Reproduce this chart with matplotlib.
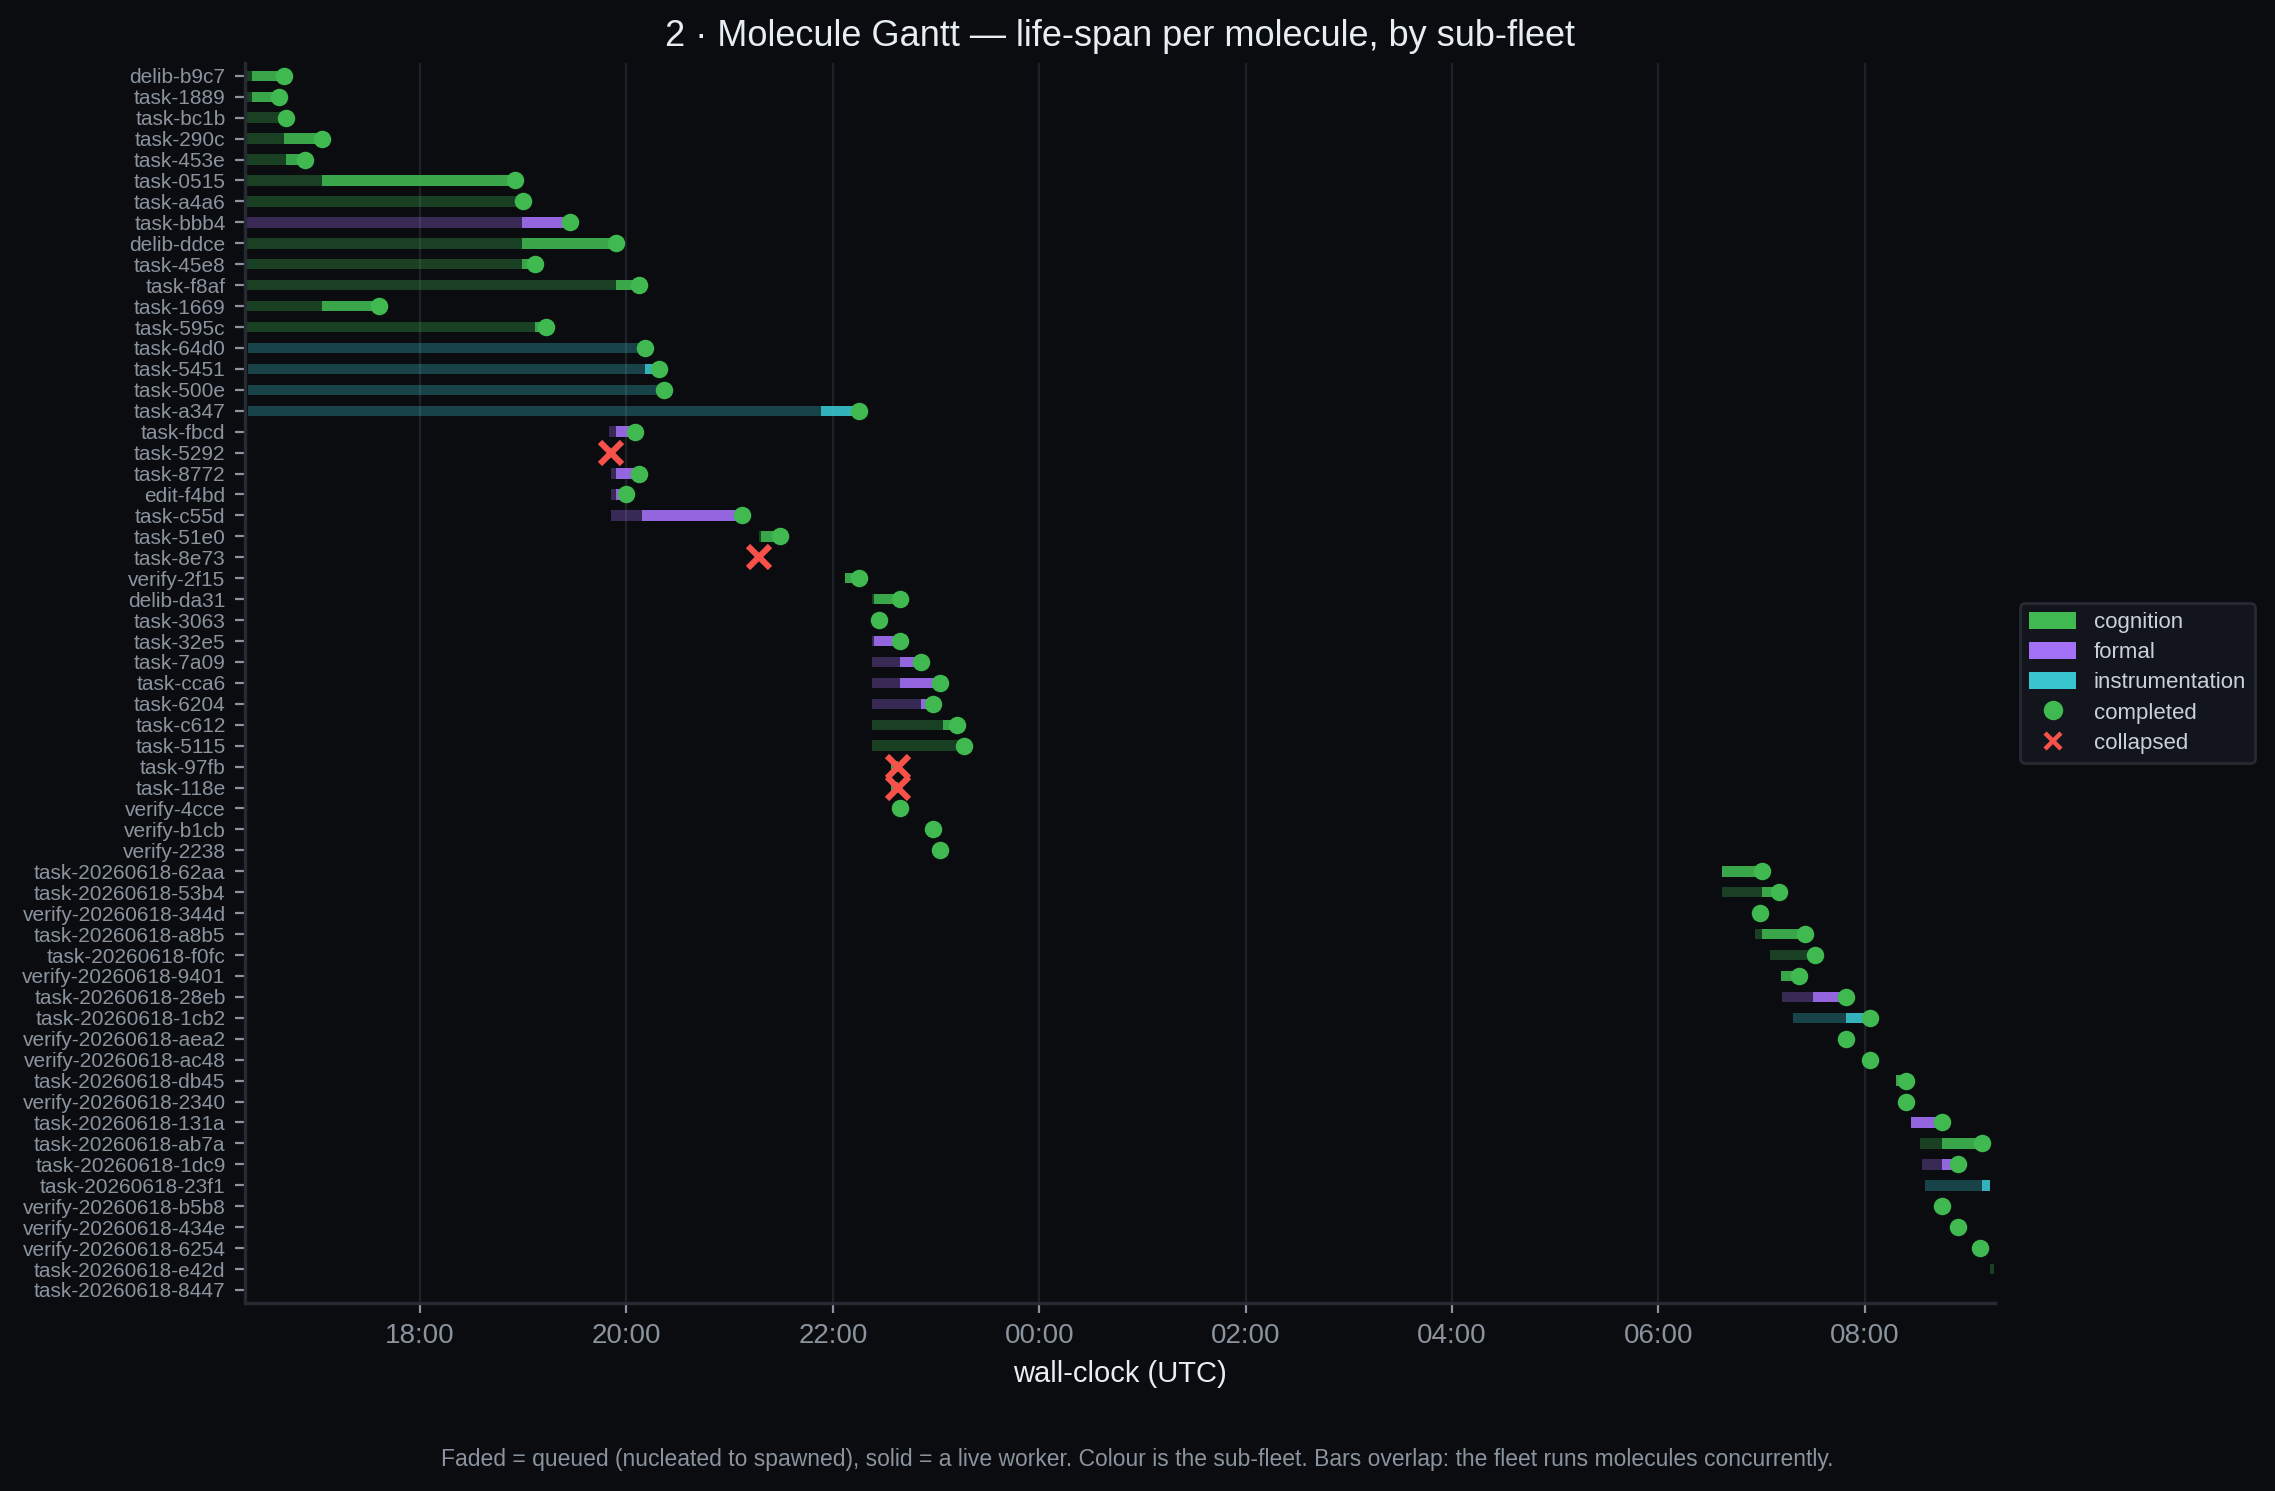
import numpy as np
import pandas as pd
import matplotlib as mpl

mpl.use("Agg")
import matplotlib.pyplot as plt
import matplotlib.dates as mdates
from matplotlib.patches import Patch
from matplotlib.lines import Line2D

# one row per molecule, top to bottom
molecules = [
    "delib-b9c7", "task-1889", "task-bc1b", "task-290c", "task-453e", "task-0515",
    "task-a4a6", "task-bbb4", "delib-ddce", "task-45e8", "task-f8af", "task-1669",
    "task-595c", "task-64d0", "task-5451", "task-500e", "task-a347", "task-fbcd",
    "task-5292", "task-8772", "edit-f4bd", "task-c55d", "task-51e0", "task-8e73",
    "verify-2f15", "delib-da31", "task-3063", "task-32e5", "task-7a09", "task-cca6",
    "task-6204", "task-c612", "task-5115", "task-97fb", "task-118e", "verify-4cce",
    "verify-b1cb", "verify-2238",
    "task-20260618-62aa", "task-20260618-53b4", "verify-20260618-344d",
    "task-20260618-a8b5", "task-20260618-f0fc", "verify-20260618-9401",
    "task-20260618-28eb", "task-20260618-1cb2", "verify-20260618-aea2",
    "verify-20260618-ac48", "task-20260618-db45", "verify-20260618-2340",
    "task-20260618-131a", "task-20260618-ab7a", "task-20260618-1dc9",
    "task-20260618-23f1", "verify-20260618-b5b8", "verify-20260618-434e",
    "verify-20260618-6254", "task-20260618-e42d", "task-20260618-8447",
]
fleet = (
    ["cognition"] * 7 + ["formal"] + ["cognition"] * 5 + ["instrumentation"] * 4
    + ["formal"] * 5 + ["cognition"] * 5 + ["formal"] * 4 + ["cognition"] * 13
    + ["formal", "instrumentation", "cognition", "cognition", "cognition", "cognition",
       "formal", "cognition", "formal", "instrumentation", "cognition", "cognition",
       "cognition", "cognition", "cognition"]
)
nucleated = [
    "16:19", "16:19", "16:19", "16:19", "16:19", "16:19", "16:19", "16:19", "16:19",
    "16:19", "16:19", "16:19", "16:19", "16:20", "16:20", "16:20", "16:20", "19:50",
    "19:50", "19:51", "19:51", "19:51", "21:17", "21:17", "22:07", "22:23", "22:23",
    "22:23", "22:23", "22:23", "22:23", "22:23", "22:23", "22:34", "22:34", "22:39",
    "22:58", "23:02",
    "06:37", "06:37", "06:59", "06:56", "07:05", "07:11", "07:12", "07:18", "07:49",
    "08:03", "08:18", "08:24", "08:27", "08:32", "08:33", "08:35", "08:45", "08:54",
    "09:07", "09:13", "09:15",
]
spawned = [
    "16:22", "16:22", "16:41", "16:41", "16:42", "17:03", "18:59", "18:59", "18:59",
    "18:59", "19:54", "17:03", "19:07", "20:10", "20:11", "20:21", "21:53", "19:54",
    "19:51", "19:54", "19:54", "20:09", "21:18", "21:17", "22:07", "22:24", "22:27",
    "22:24", "22:39", "22:39", "22:51", "23:04", "23:15", "22:34", "22:34", "22:39",
    "22:58", "23:02",
    "06:37", "07:00", "06:59", "07:00", "07:30", "07:11", "07:30", "07:49", "07:49",
    "08:03", "08:18", "08:24", "08:27", "08:45", "08:45", "09:08", "08:45", "08:54",
    "09:07", "09:15", "09:15",
]
ended = [
    "16:41", "16:38", "16:42", "17:03", "16:53", "18:55", "19:00", "19:27", "19:54",
    "19:07", "20:07", "17:36", "19:13", "20:11", "20:19", "20:22", "22:15", "20:05",
    "19:51", "20:07", "20:00", "21:07", "21:29", "21:17", "22:15", "22:39", "22:27",
    "22:39", "22:51", "23:02", "22:58", "23:12", "23:16", "22:38", "22:38", "22:39",
    "22:58", "23:02",
    "07:00", "07:10", "06:59", "07:25", "07:31", "07:22", "07:49", "08:03", "07:49",
    "08:03", "08:24", "08:24", "08:45", "09:08", "08:54", "09:13", "08:45", "08:54",
    "09:07", "09:15", "09:15",
]
status = (
    ["completed"] * 18 + ["collapsed"] + ["completed"] * 4 + ["collapsed"]
    + ["completed"] * 9 + ["collapsed"] * 2 + ["completed"] * 18
    + ["running", "completed", "completed", "completed", "running", "running"]
)

FLEET_COLOURS = {"cognition": "#3fb950", "formal": "#a371f7", "instrumentation": "#39c5cf"}
BG = "#0a0c10"
FG = "#e6edf3"
MUTED = "#8b949e"
GRID = "#1d2128"
SPINE = "#262b33"
RED = "#f85149"


def wall(times):
    t = pd.to_datetime(["2026-06-17 " + s for s in times])
    # anything before noon is the next morning
    t = t + pd.to_timedelta((t.hour < 12).astype(int), unit="D")
    return mdates.date2num(t.to_pydatetime())


plt.rcParams["font.family"] = ["Liberation Sans", "DejaVu Sans"]

q = wall(nucleated)
s = wall(spawned)
e = wall(ended)
y = np.arange(len(molecules))
cols = [FLEET_COLOURS[f] for f in fleet]
st = np.array(status)

fig, ax = plt.subplots(figsize=(11.375, 7.455), dpi=200)
fig.patch.set_facecolor(BG)
ax.set_facecolor(BG)
fig.subplots_adjust(left=0.1077, right=0.877, top=0.958, bottom=0.126)

ax.barh(y, s - q, left=q, height=0.5, color=cols, alpha=0.3, linewidth=0, zorder=2)
ax.barh(y, e - s, left=s, height=0.5, color=cols, alpha=0.9, linewidth=0, zorder=2)

done = st == "completed"
gone = st == "collapsed"
ax.plot(e[done], y[done], "o", color="#3fb950", ms=6.3, mew=0, zorder=4)
ax.plot(e[gone], y[gone], "x", color=RED, ms=8, mew=2.2, zorder=4)

pad = 0.8 / 1440
ax.set_xlim(q.min() - pad, e.max() + pad)
ax.set_ylim(len(molecules) - 1 + 0.63, -0.63)
ax.set_yticks(y)
ax.set_yticklabels(molecules, fontsize=7.5)
ax.xaxis.set_major_locator(mdates.HourLocator(byhour=range(0, 24, 2)))
ax.xaxis.set_major_formatter(mdates.DateFormatter("%H:%M"))
ax.tick_params(axis="x", labelsize=10, colors=MUTED, width=0.8)
ax.tick_params(axis="y", colors=MUTED, width=0.8)

ax.grid(axis="x", color=GRID, linewidth=0.8)
ax.set_axisbelow(True)
for side in ("top", "right"):
    ax.spines[side].set_visible(False)
for side in ("left", "bottom"):
    ax.spines[side].set_color(SPINE)
    ax.spines[side].set_linewidth(1.2)

ax.set_xlabel("wall-clock (UTC)", color=FG, fontsize=10.5)
ax.set_title("2 · Molecule Gantt — life-span per molecule, by sub-fleet",
             color=FG, fontsize=13)

handles = [Patch(facecolor=FLEET_COLOURS[k], label=k) for k in FLEET_COLOURS]
handles += [
    Line2D([], [], marker="o", ls="", color="#3fb950", ms=7, mew=0, label="completed"),
    Line2D([], [], marker="x", ls="", color=RED, ms=6, mew=1.6, label="collapsed"),
]
leg = ax.legend(handles=handles, loc="center left", bbox_to_anchor=(1.008, 0.5),
                fontsize=8, facecolor="#12151b", edgecolor="#262b33",
                labelcolor="#c9d1d9", framealpha=1, handleheight=0.8,
                handlelength=2.1, labelspacing=0.4)

fig.text(0.5, 0.021,
         "Faded = queued (nucleated to spawned), solid = a live worker. Colour is the "
         "sub-fleet. Bars overlap: the fleet runs molecules concurrently.",
         ha="center", va="center", color=MUTED, fontsize=8.25)

fig.savefig("out.png", dpi=200, facecolor=BG)
